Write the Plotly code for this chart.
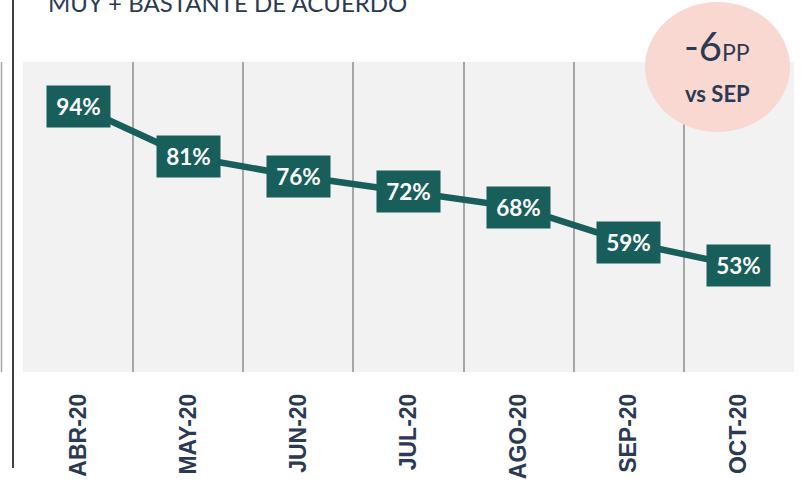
import plotly.graph_objects as go

months = ["ABR-20", "MAY-20", "JUN-20", "JUL-20", "AGO-20", "SEP-20", "OCT-20"]
values = [94, 81, 76, 72, 68, 59, 53]
labels = ["94%", "81%", "76%", "72%", "68%", "59%", "53%"]
title_text = "MUY + BASTANTE DE ACUERDO"
badge_main = "-6"
badge_unit = "PP"
badge_sub = "vs SEP"

TEAL = "#185E5B"
NAVY = "#2B3A52"

W, H = 808, 482
L, R, T, B = 23, 14, 62, 110
pw = W - L - R
ph = H - T - B

def px_x(x):
    return (x - L) / pw

def px_y(y):
    return (H - B - y) / ph

fig = go.Figure()
fig.add_trace(go.Scatter(
    x=months, y=values, mode="lines",
    line=dict(color=TEAL, width=6.5),
    hoverinfo="skip", showlegend=False,
))

for m, v, t in zip(months, values, labels):
    fig.add_annotation(
        x=m, y=v, xref="x", yref="y", text="<b>" + t + "</b>",
        showarrow=False, bgcolor=TEAL, width=63, height=41, borderpad=0,
        font=dict(family="Lato", size=22.5, color="white"),
        xanchor="center", yanchor="middle", align="center", valign="middle",
    )

# title (cut off at top, as in the reference)
fig.add_annotation(
    x=px_x(46), y=px_y(3), xref="paper", yref="paper",
    text=title_text, showarrow=False, xanchor="left", yanchor="middle",
    font=dict(family="Lato", size=24, color=NAVY),
)

# badge circle
fig.add_shape(
    type="circle", xref="paper", yref="paper",
    x0=px_x(645), x1=px_x(790), y0=px_y(132), y1=px_y(2),
    fillcolor="#F8D8D0", line=dict(width=0), layer="above",
)
fig.add_annotation(
    x=px_x(717), y=px_y(46), xref="paper", yref="paper",
    text=badge_main + "<span style='font-size:23px'>" + badge_unit + "</span>",
    showarrow=False, xanchor="center", yanchor="middle",
    font=dict(family="Lato", size=40, color=NAVY),
)
fig.add_annotation(
    x=px_x(717), y=px_y(93), xref="paper", yref="paper",
    text="<b>" + badge_sub + "</b>",
    showarrow=False, xanchor="center", yanchor="middle",
    font=dict(family="Lato", size=22, color=NAVY),
)

# side lines
fig.add_shape(type="line", xref="paper", yref="paper",
              x0=px_x(13), x1=px_x(13), y0=px_y(468), y1=px_y(0),
              line=dict(color="#000000", width=1.5), layer="above")
fig.add_shape(type="line", xref="paper", yref="paper",
              x0=px_x(1.5), x1=px_x(1.5), y0=px_y(372), y1=px_y(62),
              line=dict(color="#A6A6A6", width=1.5), layer="above")

fig.update_layout(
    width=W, height=H,
    margin=dict(l=L, r=R, t=T, b=B),
    paper_bgcolor="white", plot_bgcolor="#F2F2F2",
    showlegend=False,
)
fig.update_xaxes(
    type="category", range=[-0.5, 6.5], tickson="boundaries",
    showgrid=True, gridcolor="#A6A6A6", gridwidth=1.5,
    ticks="", tickangle=-90, ticklabelstandoff=16, automargin=False,
    tickfont=dict(family="Liberation Sans", size=23, color=NAVY),
    showline=False, zeroline=False, fixedrange=True,
)
fig.update_xaxes(tickvals=months, ticktext=["<b>" + m + "</b>" for m in months])
fig.update_yaxes(range=[25.8, 105.3], visible=False, showgrid=False,
                 fixedrange=True, automargin=False)

fig.write_html(
    "out.html",
    config={"displayModeBar": False},
    post_script="document.body.style.margin='0';document.body.style.overflow='hidden';",
)
